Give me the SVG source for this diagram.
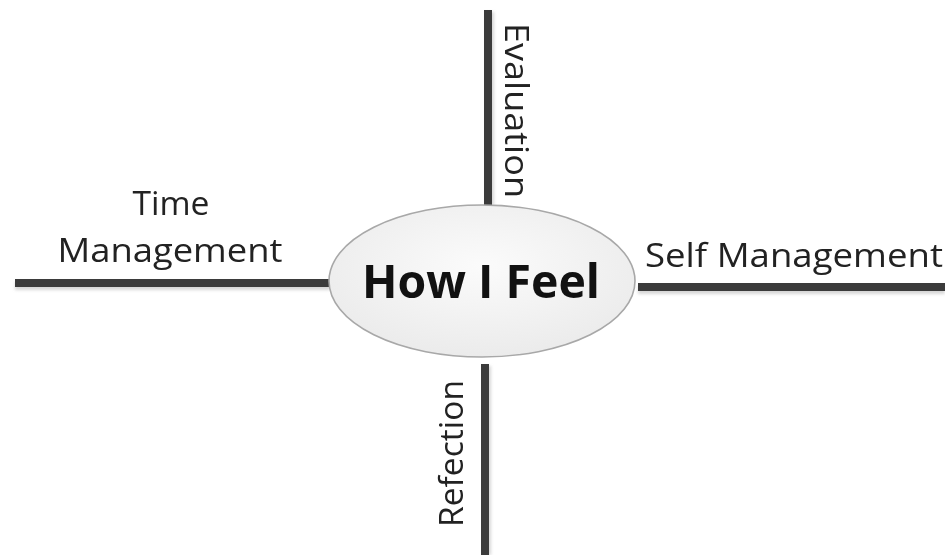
<svg xmlns="http://www.w3.org/2000/svg" width="945" height="555" viewBox="0 0 945 555">
  <defs>
    <radialGradient id="bubbleFill" cx="50%" cy="40%" r="60%">
      <stop offset="0" stop-color="#fbfbfb"/>
      <stop offset="1" stop-color="#ebebeb"/>
    </radialGradient>
    <filter id="soft" x="-5%" y="-20%" width="110%" height="140%">
      <feGaussianBlur stdDeviation="1.5"/>
    </filter>
  </defs>
  <style>
    .spoke { stroke: #3b3b3b; stroke-width: 8; stroke-linecap: butt; }
    .spoke-shadow { stroke: #bdbdbd; stroke-width: 8; opacity: 0.6; }
    .label { font-family: "Open Sans", "Liberation Sans", sans-serif; font-size: 33px; fill: #222; }
    .title { font-family: "Open Sans", "Liberation Sans", sans-serif; font-size: 47px; font-weight: bold; fill: #111; }
  </style>
  <rect width="945" height="555" fill="#ffffff"/>

  <!-- spokes radiating from the central bubble -->
  <g id="connectors">
    <g filter="url(#soft)">
      <line class="spoke-shadow" x1="490" y1="12" x2="490" y2="206"/>
      <line class="spoke-shadow" x1="487" y1="366" x2="487" y2="555"/>
      <line class="spoke-shadow" x1="15" y1="286" x2="330" y2="286"/>
      <line class="spoke-shadow" x1="638" y1="290" x2="945" y2="290"/>
    </g>
    <line class="spoke" x1="488" y1="10" x2="488" y2="206"/>
    <line class="spoke" x1="485" y1="364" x2="485" y2="555"/>
    <line class="spoke" x1="15" y1="283" x2="330" y2="283"/>
    <line class="spoke" x1="638" y1="287" x2="945" y2="287"/>
  </g>

  <g id="center">
    <ellipse cx="482" cy="281" rx="153" ry="76" fill="url(#bubbleFill)" stroke="#a8a8a8" stroke-width="1.6"/>
    <text class="title" x="481" y="298" text-anchor="middle" textLength="238" lengthAdjust="spacingAndGlyphs">How I Feel</text>
  </g>

  <g id="evaluation">
    <text class="label" transform="translate(505,23) rotate(90)" x="0" y="0" textLength="175" lengthAdjust="spacingAndGlyphs">Evaluation</text>
  </g>

  <g id="refection">
    <text class="label" transform="translate(463,527) rotate(-90)" x="0" y="0" textLength="147" lengthAdjust="spacingAndGlyphs">Refection</text>
  </g>

  <g id="time-management">
    <text class="label" x="171" y="215" text-anchor="middle" textLength="77" lengthAdjust="spacingAndGlyphs">Time</text>
    <text class="label" x="170" y="262" text-anchor="middle" textLength="225" lengthAdjust="spacingAndGlyphs">Management</text>
  </g>

  <g id="self-management">
    <text class="label" x="645" y="267" textLength="298" lengthAdjust="spacingAndGlyphs">Self Management</text>
  </g>
</svg>
